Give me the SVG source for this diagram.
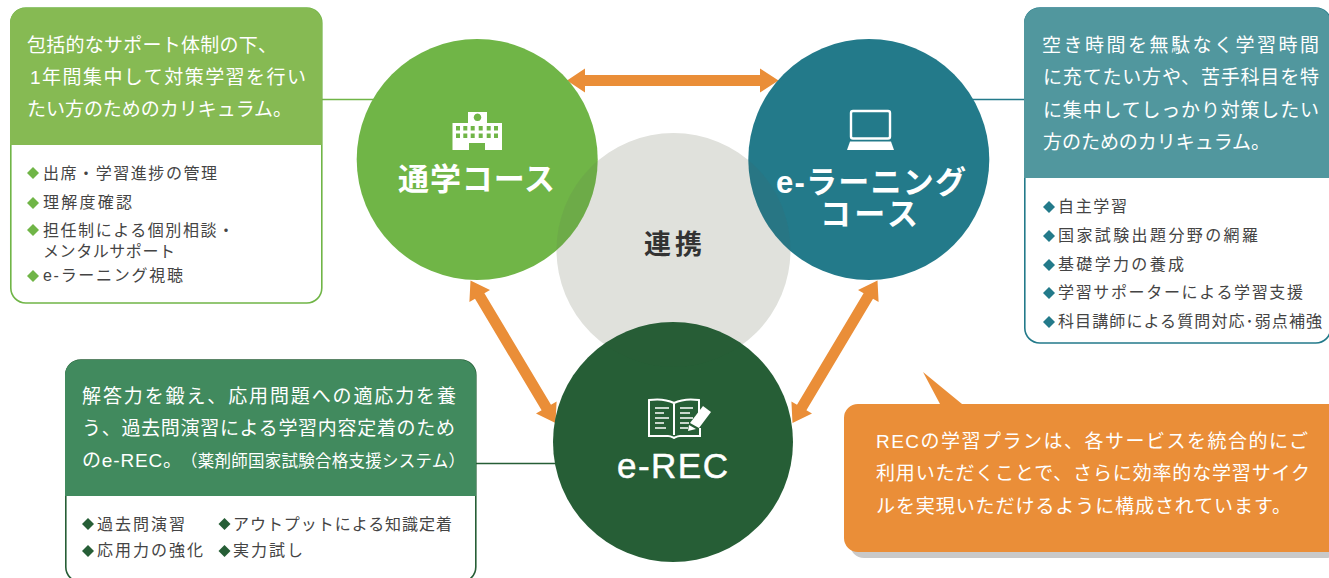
<svg xmlns="http://www.w3.org/2000/svg" width="1329" height="578" viewBox="0 0 1329 578">
<style>
text{font-family:"Liberation Sans","Noto Sans CJK JP",sans-serif}
.h{font-size:19px;fill:#fff}
.l{font-size:16px;fill:#444}
.t{font-size:31px;fill:#fff;font-weight:700;text-anchor:start}
.card{fill:#fff;stroke-width:1.6}
.arrow{fill:#ea8e38}
.ov{fill:#555;opacity:.1}
.ic{fill:none;stroke:#fff}
</style>
<defs>
<path id="d" d="M0-6 6 0 0 6-6 0Z"/>
<clipPath id="cg"><circle cx="477.2" cy="159.5" r="120.5"/></clipPath>
<clipPath id="ct"><circle cx="868.8" cy="159.5" r="120.5"/></clipPath>
<clipPath id="cd"><circle cx="673" cy="442" r="120"/></clipPath>
</defs>
<g id="connectors">
<path d="M322 99.500H376" stroke="#70b547" stroke-width="1.400" fill="none"/>
<path d="M970 99.500H1025" stroke="#237a8a" stroke-width="1.400" fill="none"/>
<path d="M476 463.500H556" stroke="#265e36" stroke-width="1.400" fill="none"/>
<polygon class="arrow" points="567,80.5 585,68.5 585,75 760,75 760,68.5 778.500,80.500 760,92.500 760,86 585,86 585,92.500"/>
<polygon class="arrow" points="470.500,280.500 490,289.900 484.400,293.200 551,404.700 556.600,401.400 555.500,423 536,413.600 541.600,410.300 475,298.800 469.400,302.100"/>
<polygon class="arrow" points="877.500,280.500 858,289.900 863.600,293.200 797,404.700 791.400,401.400 792.500,423 812,413.600 806.400,410.300 873,298.800 878.600,302.100"/>
</g>
<g id="node-renkei">
<circle cx="673.500" cy="250" r="117" fill="#e0e1dc"/>
<text x="644" y="254" font-size="27" font-weight="700" fill="#333" textLength="58">連携</text>
</g>
<g id="node-tsugaku">
<circle cx="477.200" cy="159.500" r="120.500" fill="#70b547"/>
<circle class="ov" cx="673.500" cy="250" r="117" clip-path="url(#cg)"/>
<path fill="#fff" fill-rule="evenodd" d="M468 112H487V123H502V150H485V143H469V150H452.500V123H468ZM477.500 113.500a3.800 3.800 0 1 0 .01 0ZM456 126v4.500h4V126ZM463.300 126v4.500h4V126ZM470.700 126v4.500h4V126ZM478.700 126v4.500h4V126ZM486.700 126v4.500h4V126ZM494 126v4.500h4V126ZM456 133.500v4.500h4v-4.500ZM463.300 133.500v4.500h4v-4.500ZM470.700 133.500v4.500h4v-4.500ZM478.700 133.500v4.500h4v-4.500ZM486.700 133.500v4.500h4v-4.500ZM494 133.500v4.500h4v-4.500Z"/>
<text class="t" x="398" y="190" textLength="157">通学コース</text>
</g>
<g id="node-elearning">
<circle cx="868.800" cy="159.500" r="120.500" fill="#237a8a"/>
<circle class="ov" cx="673.500" cy="250" r="117" clip-path="url(#ct)"/>
<rect class="ic" x="851" y="111" width="39" height="27.500" rx="2" stroke-width="2.400"/>
<path fill="#fff" d="M850 141.500H891L894 150H847Z"/>
<text class="t" x="776" y="193" textLength="190">e-ラーニング</text>
<text class="t" x="820" y="225" textLength="98">コース</text>
</g>
<g id="node-erec">
<circle cx="673" cy="442" r="120" fill="#265e36"/>
<circle class="ov" style="opacity:.025" cx="673.500" cy="250" r="117" clip-path="url(#cd)"/>
<g class="ic" stroke-width="1.600">
<path stroke-width="2" d="M674 403C666 399 656 399 649 400V436H668C671 436 672 437 674 438C676 437 677 436 680 436H700V428M674 403C682 399 692 399 699 400V414M674 403V435"/>
<path d="M655 408H669M655 413H664M655 418H669M655 423H664M655 428H666M680 408H693M680 413H690M680 418H693M680 423H689M680 428H688"/>
</g>
<path fill="#fff" d="M703 406L711 412 699 428 690 423Z"/>
<path fill="#fff" d="M689 425L696 429 688 431Z"/>
<text x="617" y="478" font-size="35" fill="#fff" stroke="#fff" stroke-width=".5" textLength="111">e-REC</text>
</g>
<g id="card-tsugaku">
<rect class="card" x="10.800" y="8" width="311" height="295" rx="15" stroke="#70b547"/>
<path fill="#86ba53" d="M10 145V23A15 15 0 0 1 25 8H307A15 15 0 0 1 322 23V145Z"/>
<text class="h" x="27" y="52" textLength="250">包括的なサポート体制の下、</text>
<text class="h" x="30" y="84" textLength="276">1年間集中して対策学習を行い</text>
<text class="h" x="27" y="116" textLength="265">たい方のためのカリキュラム。</text>
<g fill="#70b547"><use href="#d" x="33" y="173"/><use href="#d" x="33" y="203"/><use href="#d" x="33" y="230"/><use href="#d" x="33" y="276"/></g>
<text class="l" x="43" y="179" textLength="174">出席・学習進捗の管理</text>
<text class="l" x="43" y="208" textLength="89">理解度確認</text>
<text class="l" x="43" y="236" textLength="191">担任制による個別相談・</text>
<text class="l" x="43" y="257" textLength="132">メンタルサポート</text>
<text class="l" x="43" y="281" textLength="140">e-ラーニング視聴</text>
</g>
<g id="card-elearning">
<rect class="card" x="1024.800" y="8" width="306" height="335" rx="15" stroke="#237a8a"/>
<path fill="#51979e" d="M1024 178V23A15 15 0 0 1 1039 8H1316A15 15 0 0 1 1331 23V178Z"/>
<text class="h" x="1042" y="52" textLength="277">空き時間を無駄なく学習時間</text>
<text class="h" x="1043" y="84" textLength="276">に充てたい方や、苦手科目を特</text>
<text class="h" x="1043" y="117" textLength="276">に集中してしっかり対策したい</text>
<text class="h" x="1043" y="149" textLength="227">方のためのカリキュラム。</text>
<g fill="#237a8a"><use href="#d" x="1049" y="207"/><use href="#d" x="1049" y="236"/><use href="#d" x="1049" y="265"/><use href="#d" x="1049" y="293"/><use href="#d" x="1049" y="322"/></g>
<text class="l" x="1058" y="212" textLength="69">自主学習</text>
<text class="l" x="1058" y="241" textLength="200">国家試験出題分野の網羅</text>
<text class="l" x="1058" y="270" textLength="126">基礎学力の養成</text>
<text class="l" x="1058" y="298" textLength="245">学習サポーターによる学習支援</text>
<text class="l" x="1058" y="327" textLength="264">科目講師による質問対応･弱点補強</text>
</g>
<g id="card-erec">
<rect class="card" x="65.800" y="360" width="410" height="222" rx="15" stroke="#265e36"/>
<path fill="#418a5e" d="M65 496V375A15 15 0 0 1 80 360H461A15 15 0 0 1 476 375V496Z"/>
<text class="h" x="82" y="403" textLength="374">解答力を鍛え、応用問題への適応力を養</text>
<text class="h" x="82" y="435" textLength="373">う、過去問演習による学習内容定着のため</text>
<text class="h" x="82" y="467" textLength="100">のe-REC。</text>
<text x="181" y="467" font-size="16.500" fill="#fff" textLength="284">（薬剤師国家試験合格支援システム）</text>
<g fill="#265e36"><use href="#d" x="88" y="524"/><use href="#d" x="88" y="551"/><use href="#d" x="224.500" y="524"/><use href="#d" x="224.500" y="551"/></g>
<text class="l" x="97" y="530" textLength="88">過去問演習</text>
<text class="l" x="233" y="530" textLength="219">アウトプットによる知識定着</text>
<text class="l" x="97" y="556" textLength="106">応用力の強化</text>
<text class="l" x="233" y="556" textLength="70">実力試し</text>
</g>
<g id="callout">
<rect x="850" y="420" width="490" height="138" rx="14" fill="#c9c9c9"/>
<path fill="#ea8e38" d="M923 372L962 404H1340V552H858A14 14 0 0 1 844 538V418A14 14 0 0 1 858 404H940Z"/>
<text class="h" x="876" y="448" textLength="432">RECの学習プランは、各サービスを統合的にご</text>
<text class="h" x="876" y="480" textLength="434">利用いただくことで、さらに効率的な学習サイク</text>
<text class="h" x="876" y="513" textLength="415">ルを実現いただけるように構成されています。</text>
</g>
</svg>
